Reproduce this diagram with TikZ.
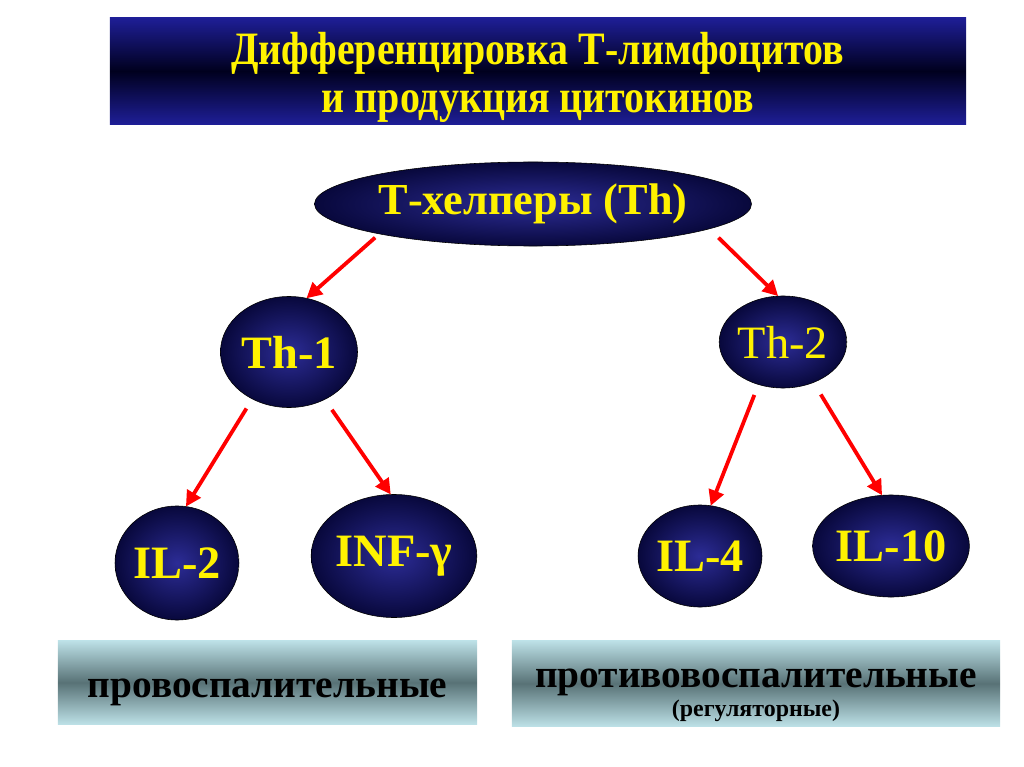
\documentclass[tikz,border=0pt]{standalone}
\usepackage{fontspec}
\setmainfont{Liberation Serif}
\usetikzlibrary{arrows.meta,shapes.geometric}

\definecolor{navylight}{RGB}{44,44,150}
\definecolor{navydark}{RGB}{8,8,60}
\definecolor{titletop}{RGB}{30,30,150}
\definecolor{titlemid}{RGB}{0,0,30}
\definecolor{boxlight}{RGB}{188,224,230}
\definecolor{boxdark}{RGB}{88,114,118}

\begin{document}
\begin{tikzpicture}[x=0.025cm, y=-0.025cm,
    cell/.style ={ellipse, draw=black, thin, inner sep = 0pt, outer sep = 0pt,
      inner color=navylight, outer color=navydark, text=yellow,
      font=\fontsize{33}{36}\selectfont\bfseries},
    titlebox/.style ={rectangle, inner sep = 0pt, top color=titletop,
      bottom color=titletop, middle color=titlemid, text=yellow, align=center,
      font=\fontsize{33}{29}\selectfont\bfseries},
    groupbox/.style ={rectangle, inner sep = 0pt, top color=boxlight,
      bottom color=boxlight, middle color=boxdark, text=black, align=center,
      font=\fontsize{28}{21.3}\selectfont\bfseries},
    link/.style ={-{Triangle[length=11pt,width=11pt]}, line width=2.7pt, red}]
   \useasboundingbox (0,0) rectangle (1024,767);

   \node[titlebox, minimum width=21.4cm, minimum height=2.65cm] (T) at (538,71)
     {\rule{0pt}{32pt}\scalebox{0.86}[1]{Дифференцировка Т-лимфоцитов}\\[5pt]
      \scalebox{0.86}[1]{и продукция цитокинов}};

   \node[cell, minimum width=10.9cm, minimum height=2.1cm, font=\fontsize{31.5}{36}\selectfont\bfseries]
     (H) at (533,204) {Т-хелперы (Th)};
   \node[cell, minimum width=3.425cm, minimum height=2.775cm] (A) at (289,352) {Th-1};
   \node[cell, minimum width=2.825cm, minimum height=2.3cm, font=\fontsize{33}{36}\selectfont]
     (B) at (783,342) {\raisebox{-2pt}{Th-2}};
   \node[cell, minimum width=2.9cm, minimum height=2.85cm] (a1) at (177,563) {IL-2};
   \node[cell, minimum width=3.35cm, minimum height=3.075cm] (a2) at (394,556) {INF-γ};
   \node[cell, minimum width=3.0cm, minimum height=2.55cm] (b1) at (700,556) {IL-4};
   \node[cell, minimum width=3.125cm, minimum height=2.55cm] (b2) at (891,546) {IL-10};

   \node[groupbox, minimum width=10.475cm, minimum height=2.075cm] (P) at (267.5,682.5)
     {\rule{0pt}{27pt}провоспалительные};
   \node[groupbox, minimum width=12.2cm, minimum height=2.125cm] (R) at (756,683.5)
     {\rule{0pt}{30pt}противовоспалительные\\
      \fontsize{17}{20}\selectfont (регуляторные)};

   \draw[link, shorten <=4pt] (H.191) to (A.72);
   \draw[link, shorten <=9pt] (H.352) to (B.96);
   \draw[link, shorten <=8pt] (A.232) to (a1.81);
   \draw[link, shorten <=9pt] (A.307) to (a2.93);
   \draw[link, shorten <=8pt] (B.240) to (b1.78);
   \draw[link, shorten <=10pt] (B.307) to (b2.100);
 \end{tikzpicture}
\end{document}
